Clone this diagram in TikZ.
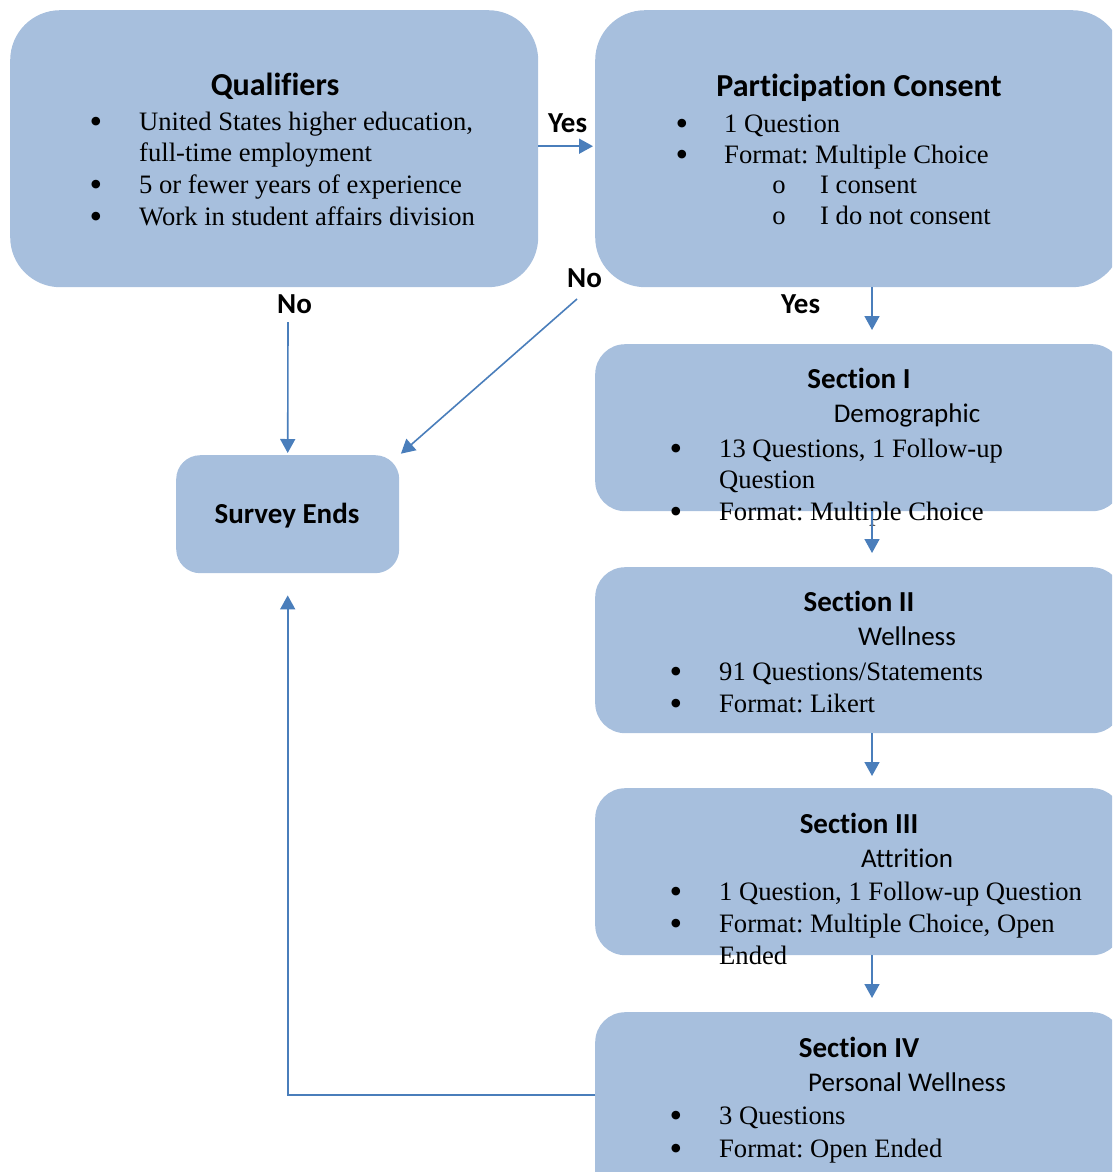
\documentclass[tikz,border=0pt]{standalone}
\usepackage{fontspec}
\setmainfont{Liberation Serif}
\newfontfamily\calfont[Ligatures={NoCommon,NoContextual}]{Carlito}
\usetikzlibrary{arrows.meta}
\definecolor{boxfill}{RGB}{167,191,221}
\definecolor{arrowc}{RGB}{74,126,187}
\frenchspacing
\begin{document}
\frenchspacing
\begin{tikzpicture}[x=1pt,y=-1pt,
  box/.style={fill=boxfill, draw=none, inner sep=0pt, anchor=north west},
  conn/.style={draw=arrowc, line width=1.6pt, -{Triangle[length=14pt,width=15pt]}},
  body/.style={font=\frenchspacing\fontsize{26.6}{32}\selectfont, anchor=base west, inner sep=0pt},
  bul/.style={font=\fontsize{36}{40}\selectfont, anchor=base, inner sep=0pt, yshift=-3pt},
  sub/.style={font=\fontsize{26.6}{32}\selectfont, anchor=base, inner sep=0pt},
  bigtitle/.style={font=\calfont\bfseries\fontsize{32}{38}\selectfont, anchor=base, inner sep=0pt},
  sectitle/.style={font=\calfont\bfseries\fontsize{29}{35}\selectfont, anchor=base, inner sep=0pt},
  subtitle/.style={font=\calfont\fontsize{27}{32}\selectfont, anchor=base, inner sep=0pt},
  lbl/.style={font=\calfont\bfseries\fontsize{29}{35}\selectfont, anchor=base west, inner sep=0pt}
]
\useasboundingbox (0,0) rectangle (1112,1172);
\clip (0,0) rectangle (1112,1172);

% boxes
\node[box, minimum width=528pt, minimum height=277pt, rounded corners=50pt] (q) at (10,10) {};
\node[box, minimum width=527pt, minimum height=277pt, rounded corners=50pt] (pc) at (595,10) {};
\node[box, minimum width=223pt, minimum height=118pt, rounded corners=24pt] (se) at (176,455) {};
\node[box, minimum width=527pt, minimum height=167pt, rounded corners=30pt] (s1) at (595,344) {};
\node[box, minimum width=527pt, minimum height=166pt, rounded corners=30pt] (s2) at (595,567) {};
\node[box, minimum width=527pt, minimum height=167pt, rounded corners=30pt] (s3) at (595,788) {};
\node[box, minimum width=527pt, minimum height=200pt, rounded corners=30pt] (s4) at (595,1012) {};

% Qualifiers
\node[bigtitle] (qt) at (275,95) {Qualifiers};
\node[bul] (qb1) at (96,130) {•};
\node[body] (ql1) at (139,130) {United States higher education,};
\node[body] (ql2) at (139,161) {full-time employment};
\node[bul] (qb2) at (96,193) {•};
\node[body] (ql3) at (139,193) {5 or fewer years of experience};
\node[bul] (qb3) at (96,225) {•};
\node[body] (ql4) at (139,225) {Work in student affairs division};

% Participation Consent
\node[bigtitle] (pct) at (859,96) {Participation Consent};
\node[bul] (pcb1) at (682,132) {•};
\node[body] (pcl1) at (724,132) {1 Question};
\node[bul] (pcb2) at (682,163) {•};
\node[body] (pcl2) at (724,163) {Format: Multiple Choice};
\node[sub] (pco1) at (779,193) {o};
\node[body] (pcl3) at (820,193) {I consent};
\node[sub] (pco2) at (779,224) {o};
\node[body] (pcl4) at (820,224) {I do not consent};

% Survey Ends
\node[sectitle] (set) at (287,523) {Survey Ends};

% Section I
\node[sectitle] (s1t) at (859,388) {Section I};
\node[subtitle] (s1s) at (907,422) {Demographic};
\node[bul] (s1b1) at (676,457) {•};
\node[body] (s1l1) at (719,457) {13 Questions, 1 Follow-up};
\node[body] (s1l2) at (719,488) {Question};
\node[bul] (s1b2) at (676,520) {•};
\node[body] (s1l3) at (719,520) {Format: Multiple Choice};

% Section II
\node[sectitle] (s2t) at (859,611) {Section II};
\node[subtitle] (s2s) at (907,645) {Wellness};
\node[bul] (s2b1) at (676,680) {•};
\node[body] (s2l1) at (719,680) {91 Questions/Statements};
\node[bul] (s2b2) at (676,712) {•};
\node[body] (s2l2) at (719,712) {Format: Likert};

% Section III
\node[sectitle] (s3t) at (859,833) {Section III};
\node[subtitle] (s3s) at (907,867) {Attrition};
\node[bul] (s3b1) at (676,900) {•};
\node[body] (s3l1) at (719,900) {1 Question, 1 Follow-up Question};
\node[bul] (s3b2) at (676,932) {•};
\node[body] (s3l2) at (719,932) {Format: Multiple Choice, Open};
\node[body] (s3l3) at (719,964) {Ended};

% Section IV
\node[sectitle] (s4t) at (859,1057) {Section IV};
\node[subtitle] (s4s) at (907,1091) {Personal Wellness};
\node[bul] (s4b1) at (676,1124) {•};
\node[body] (s4l1) at (719,1124) {3 Questions};
\node[bul] (s4b2) at (676,1157) {•};
\node[body] (s4l2) at (719,1157) {Format: Open Ended};

% labels
\node[lbl] (yes1) at (548,132) {Yes};
\node[lbl] (no1) at (277,313) {No};
\node[lbl] (no2) at (567,287) {No};
\node[lbl] (yes2) at (781,313) {Yes};

% helper coordinates
\coordinate (ax) at (872,0);
\coordinate (nostart) at (577,299);
\coordinate (qnostart) at (288,322);
\coordinate (fb) at (0,1095);

% connectors
\draw[conn, shorten >=2pt] ([yshift=2.5pt]q.east) -- ([yshift=2.5pt]pc.west);
\draw[conn, shorten >=14pt] (pc.south -| ax) -- (s1.north -| ax);
\draw[conn, shorten >=2pt] (qnostart) -- (se.north);
\draw[conn, shorten >=2pt] (nostart) -- (se.north east);
\draw[conn, shorten >=14pt] (s1.south -| ax) -- (s2.north -| ax);
\draw[conn, shorten >=12pt] (s2.south -| ax) -- (s3.north -| ax);
\draw[conn, shorten >=14pt] (s3.south -| ax) -- (s4.north -| ax);
\draw[conn, shorten >=22pt] (s4.west |- fb) -| (se.south);
\end{tikzpicture}
\end{document}
